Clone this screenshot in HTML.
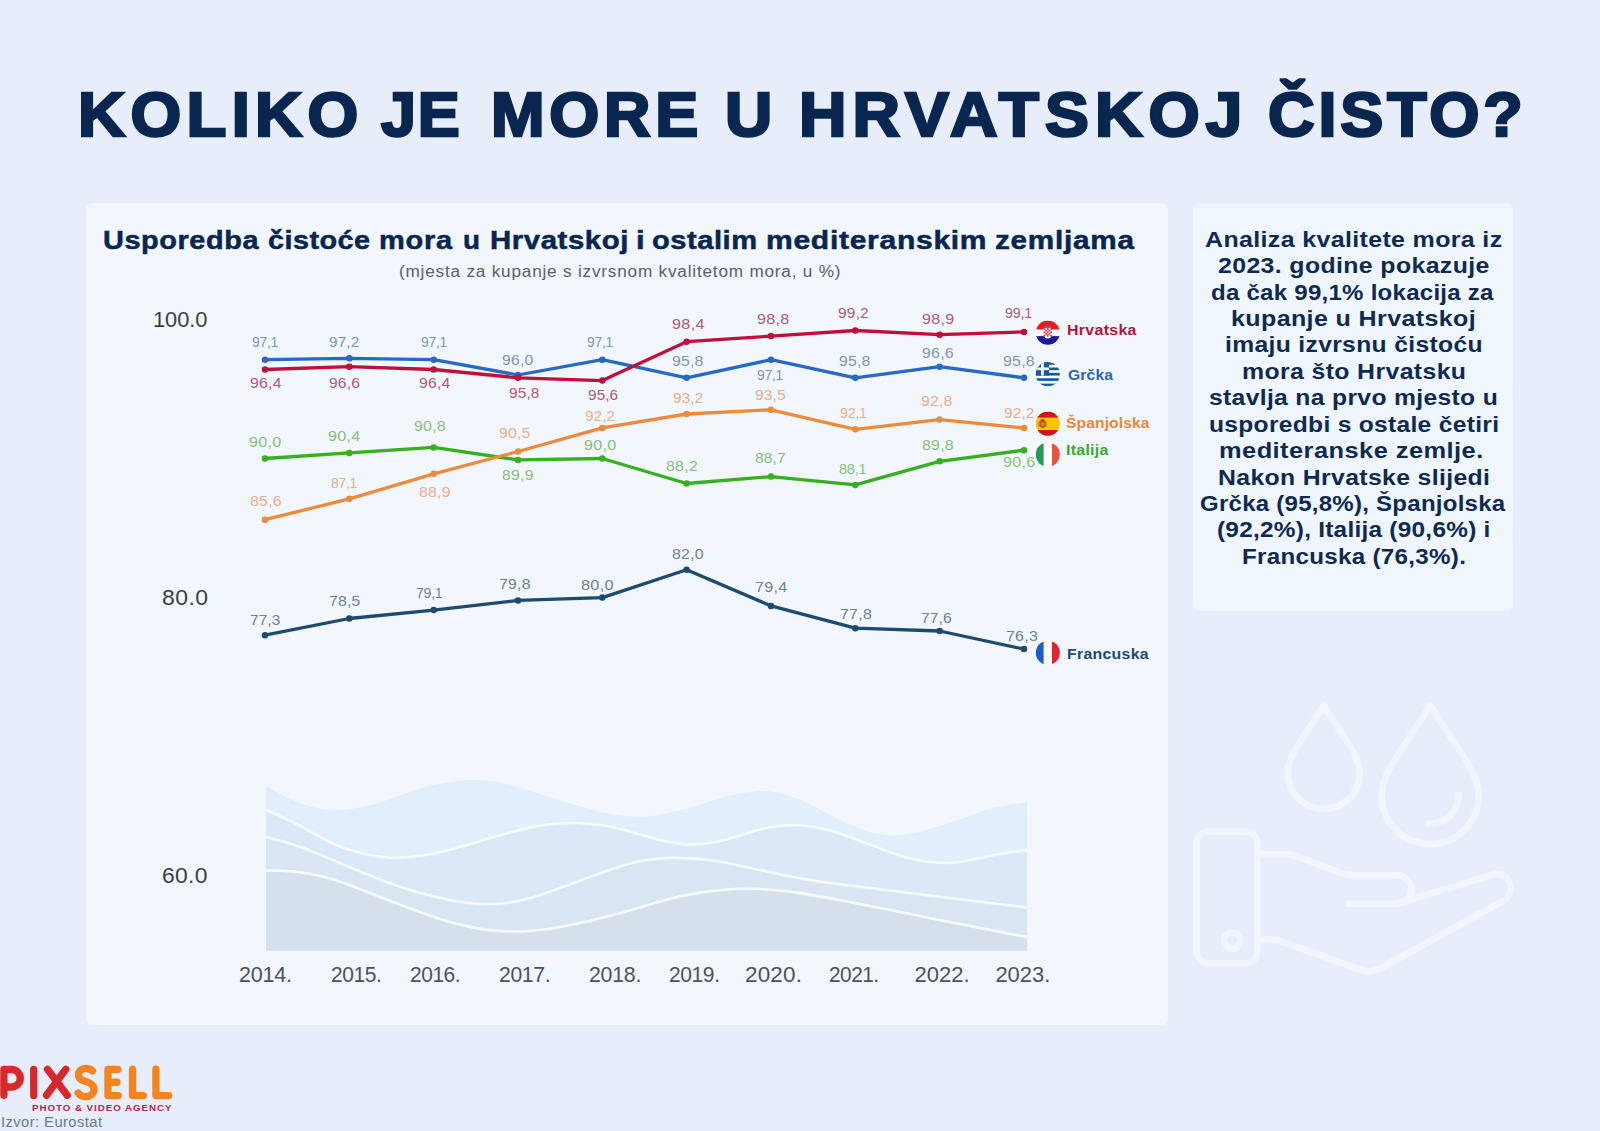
<!DOCTYPE html>
<html lang="hr"><head><meta charset="utf-8"><title>Koliko je more u Hrvatskoj čisto?</title>
<style>
html,body{margin:0;padding:0}
body{width:1600px;height:1131px;position:relative;overflow:hidden;background:#e7eef9;font-family:"Liberation Sans",sans-serif}
.card{position:absolute;background:#f2f6fd;border-radius:6px}
.t{position:absolute;white-space:pre;line-height:1;transform-origin:0 50%}
svg{position:absolute;left:0;top:0}
</style></head><body>
<div class="card" style="left:85.75px;top:202.75px;width:1082.7px;height:822px"></div>
<div class="card" style="left:1192.75px;top:202.75px;width:320.5px;height:407.8px;background:#f0f6fe"></div>
<svg width="1600" height="1131" viewBox="0 0 1600 1131"><defs><clipPath id="chr"><circle cx="1047.8" cy="332.7" r="12.1"/></clipPath><clipPath id="cgr"><circle cx="1047.8" cy="374.2" r="12.1"/></clipPath><clipPath id="ces"><circle cx="1047.8" cy="423.7" r="12.1"/></clipPath><clipPath id="cit"><circle cx="1047.8" cy="454.6" r="12.1"/></clipPath><clipPath id="cfr"><circle cx="1047.8" cy="652.8" r="12.1"/></clipPath></defs>
<path d="M266.3,786.5C268.6,787.7 275.6,791.6 280.3,794.0C285.0,796.4 289.6,798.9 294.3,800.9C299.0,802.9 303.6,804.7 308.3,806.1C313.0,807.5 317.6,808.6 322.3,809.3C327.0,810.0 331.6,810.3 336.3,810.3C341.0,810.2 345.6,809.7 350.3,809.1C355.0,808.4 359.6,807.5 364.3,806.5C369.0,805.5 373.6,804.3 378.3,802.9C383.0,801.5 387.6,799.9 392.3,798.3C397.0,796.7 401.6,794.8 406.3,793.2C411.0,791.6 415.6,789.9 420.3,788.5C425.0,787.1 429.6,785.9 434.3,784.9C439.0,783.8 443.6,782.9 448.3,782.2C453.0,781.5 457.6,780.8 462.3,780.4C467.0,780.1 471.6,779.9 476.3,780.0C481.0,780.0 485.6,780.3 490.3,780.9C495.0,781.5 499.6,782.3 504.3,783.4C509.0,784.4 513.6,785.8 518.3,787.2C523.0,788.6 527.6,790.2 532.3,791.6C537.0,793.1 541.6,794.7 546.3,796.2C551.0,797.6 555.6,799.1 560.3,800.5C565.0,802.0 569.6,803.4 574.3,804.8C579.0,806.1 583.6,807.5 588.3,808.8C593.0,810.0 597.6,811.2 602.3,812.2C607.0,813.2 611.6,814.1 616.3,814.8C621.0,815.6 625.6,816.2 630.3,816.5C635.0,816.8 639.6,816.9 644.3,816.6C649.0,816.3 653.6,815.6 658.3,814.9C663.0,814.1 667.6,813.2 672.3,812.2C677.0,811.2 681.6,810.1 686.3,808.8C691.0,807.6 695.6,806.2 700.3,804.7C705.0,803.2 709.6,801.5 714.3,800.1C719.0,798.6 723.6,797.2 728.3,796.0C733.0,794.9 737.6,793.9 742.3,793.1C747.0,792.4 751.6,791.8 756.3,791.5C761.0,791.3 765.6,791.2 770.3,791.6C775.0,792.0 779.6,792.9 784.3,794.1C789.0,795.3 793.6,797.1 798.3,799.0C803.0,801.0 807.6,803.4 812.3,805.7C817.0,808.0 821.6,810.6 826.3,812.9C831.0,815.3 835.6,817.8 840.3,820.0C845.0,822.3 849.6,824.6 854.3,826.6C859.0,828.5 863.6,830.4 868.3,831.7C873.0,833.0 877.6,834.0 882.3,834.6C887.0,835.2 891.6,835.3 896.3,835.2C901.0,835.0 905.6,834.4 910.3,833.6C915.0,832.9 919.6,831.8 924.3,830.6C929.0,829.4 933.6,828.0 938.3,826.6C943.0,825.2 947.6,823.6 952.3,822.0C957.0,820.4 961.6,818.6 966.3,816.9C971.0,815.2 975.6,813.4 980.3,811.9C985.0,810.3 989.6,808.9 994.3,807.8C999.0,806.6 1003.6,805.8 1008.3,804.9C1013.0,804.1 1019.2,803.2 1022.3,802.7C1025.4,802.2 1026.2,802.1 1027.0,802.0L1027,950.6L266.3,950.6Z" fill="#e2eefb"/>
<path d="M266.3,810.0C268.6,811.1 275.6,814.1 280.3,816.3C285.0,818.5 289.6,820.6 294.3,823.0C299.0,825.3 303.6,827.8 308.3,830.3C313.0,832.8 317.6,835.6 322.3,838.1C327.0,840.5 331.6,843.0 336.3,845.0C341.0,847.0 345.6,848.6 350.3,850.1C355.0,851.6 359.6,852.7 364.3,853.8C369.0,854.9 373.6,855.9 378.3,856.5C383.0,857.2 387.6,857.6 392.3,857.7C397.0,857.8 401.6,857.5 406.3,857.1C411.0,856.8 415.6,856.2 420.3,855.6C425.0,855.0 429.6,854.3 434.3,853.4C439.0,852.5 443.6,851.4 448.3,850.2C453.0,849.0 457.6,847.6 462.3,846.3C467.0,844.9 471.6,843.5 476.3,842.2C481.0,840.8 485.6,839.4 490.3,838.1C495.0,836.8 499.6,835.4 504.3,834.2C509.0,832.9 513.6,831.6 518.3,830.4C523.0,829.2 527.6,828.0 532.3,827.1C537.0,826.1 541.6,825.4 546.3,824.7C551.0,824.1 555.6,823.7 560.3,823.4C565.0,823.1 569.6,823.0 574.3,823.0C579.0,823.1 583.6,823.3 588.3,823.7C593.0,824.1 597.6,824.6 602.3,825.3C607.0,826.0 611.6,826.9 616.3,828.0C621.0,829.0 625.6,830.3 630.3,831.7C635.0,833.0 639.6,834.5 644.3,835.8C649.0,837.2 653.6,838.6 658.3,839.8C663.0,841.0 667.6,842.0 672.3,842.8C677.0,843.6 681.6,844.2 686.3,844.4C691.0,844.6 695.6,844.5 700.3,844.2C705.0,843.8 709.6,843.1 714.3,842.2C719.0,841.3 723.6,840.2 728.3,838.9C733.0,837.7 737.6,836.2 742.3,834.8C747.0,833.4 751.6,831.8 756.3,830.5C761.0,829.3 765.6,828.1 770.3,827.3C775.0,826.4 779.6,825.8 784.3,825.5C789.0,825.2 793.6,825.1 798.3,825.3C803.0,825.6 807.6,826.1 812.3,826.8C817.0,827.5 821.6,828.5 826.3,829.6C831.0,830.8 835.6,832.2 840.3,833.7C845.0,835.2 849.6,837.0 854.3,838.7C859.0,840.4 863.6,842.2 868.3,844.0C873.0,845.7 877.6,847.6 882.3,849.3C887.0,851.1 891.6,852.9 896.3,854.4C901.0,855.9 905.6,857.3 910.3,858.4C915.0,859.5 919.6,860.5 924.3,861.2C929.0,862.0 933.6,862.6 938.3,862.8C943.0,863.0 947.6,863.0 952.3,862.7C957.0,862.3 961.6,861.6 966.3,860.9C971.0,860.1 975.6,859.0 980.3,858.0C985.0,857.0 989.6,855.9 994.3,855.0C999.0,854.1 1003.6,853.2 1008.3,852.6C1013.0,851.9 1019.2,851.3 1022.3,851.0C1025.4,850.6 1026.2,850.6 1027.0,850.5L1027,950.6L266.3,950.6Z" fill="#dae8f7"/>
<path d="M266.3,810.0C268.6,811.1 275.6,814.1 280.3,816.3C285.0,818.5 289.6,820.6 294.3,823.0C299.0,825.3 303.6,827.8 308.3,830.3C313.0,832.8 317.6,835.6 322.3,838.1C327.0,840.5 331.6,843.0 336.3,845.0C341.0,847.0 345.6,848.6 350.3,850.1C355.0,851.6 359.6,852.7 364.3,853.8C369.0,854.9 373.6,855.9 378.3,856.5C383.0,857.2 387.6,857.6 392.3,857.7C397.0,857.8 401.6,857.5 406.3,857.1C411.0,856.8 415.6,856.2 420.3,855.6C425.0,855.0 429.6,854.3 434.3,853.4C439.0,852.5 443.6,851.4 448.3,850.2C453.0,849.0 457.6,847.6 462.3,846.3C467.0,844.9 471.6,843.5 476.3,842.2C481.0,840.8 485.6,839.4 490.3,838.1C495.0,836.8 499.6,835.4 504.3,834.2C509.0,832.9 513.6,831.6 518.3,830.4C523.0,829.2 527.6,828.0 532.3,827.1C537.0,826.1 541.6,825.4 546.3,824.7C551.0,824.1 555.6,823.7 560.3,823.4C565.0,823.1 569.6,823.0 574.3,823.0C579.0,823.1 583.6,823.3 588.3,823.7C593.0,824.1 597.6,824.6 602.3,825.3C607.0,826.0 611.6,826.9 616.3,828.0C621.0,829.0 625.6,830.3 630.3,831.7C635.0,833.0 639.6,834.5 644.3,835.8C649.0,837.2 653.6,838.6 658.3,839.8C663.0,841.0 667.6,842.0 672.3,842.8C677.0,843.6 681.6,844.2 686.3,844.4C691.0,844.6 695.6,844.5 700.3,844.2C705.0,843.8 709.6,843.1 714.3,842.2C719.0,841.3 723.6,840.2 728.3,838.9C733.0,837.7 737.6,836.2 742.3,834.8C747.0,833.4 751.6,831.8 756.3,830.5C761.0,829.3 765.6,828.1 770.3,827.3C775.0,826.4 779.6,825.8 784.3,825.5C789.0,825.2 793.6,825.1 798.3,825.3C803.0,825.6 807.6,826.1 812.3,826.8C817.0,827.5 821.6,828.5 826.3,829.6C831.0,830.8 835.6,832.2 840.3,833.7C845.0,835.2 849.6,837.0 854.3,838.7C859.0,840.4 863.6,842.2 868.3,844.0C873.0,845.7 877.6,847.6 882.3,849.3C887.0,851.1 891.6,852.9 896.3,854.4C901.0,855.9 905.6,857.3 910.3,858.4C915.0,859.5 919.6,860.5 924.3,861.2C929.0,862.0 933.6,862.6 938.3,862.8C943.0,863.0 947.6,863.0 952.3,862.7C957.0,862.3 961.6,861.6 966.3,860.9C971.0,860.1 975.6,859.0 980.3,858.0C985.0,857.0 989.6,855.9 994.3,855.0C999.0,854.1 1003.6,853.2 1008.3,852.6C1013.0,851.9 1019.2,851.3 1022.3,851.0C1025.4,850.6 1026.2,850.6 1027.0,850.5" fill="none" stroke="#f7fafe" stroke-width="2.6"/>
<path d="M266.3,837.0C268.6,837.6 275.6,839.5 280.3,840.8C285.0,842.1 289.6,843.5 294.3,845.0C299.0,846.5 303.6,848.2 308.3,850.0C313.0,851.7 317.6,853.7 322.3,855.6C327.0,857.6 331.6,859.6 336.3,861.6C341.0,863.5 345.6,865.5 350.3,867.5C355.0,869.4 359.6,871.3 364.3,873.2C369.0,875.1 373.6,877.0 378.3,878.8C383.0,880.6 387.6,882.4 392.3,884.1C397.0,885.8 401.6,887.3 406.3,888.8C411.0,890.3 415.6,891.6 420.3,892.9C425.0,894.2 429.6,895.5 434.3,896.6C439.0,897.8 443.6,898.9 448.3,899.8C453.0,900.8 457.6,901.6 462.3,902.2C467.0,902.9 471.6,903.4 476.3,903.7C481.0,904.1 485.6,904.2 490.3,904.1C495.0,904.0 499.6,903.7 504.3,903.2C509.0,902.7 513.6,902.0 518.3,901.1C523.0,900.2 527.6,899.0 532.3,897.6C537.0,896.3 541.6,894.6 546.3,893.0C551.0,891.4 555.6,889.6 560.3,887.9C565.0,886.2 569.6,884.5 574.3,882.8C579.0,881.1 583.6,879.3 588.3,877.6C593.0,875.9 597.6,874.2 602.3,872.6C607.0,870.9 611.6,869.3 616.3,867.8C621.0,866.3 625.6,864.8 630.3,863.6C635.0,862.3 639.6,861.3 644.3,860.4C649.0,859.6 653.6,859.0 658.3,858.6C663.0,858.2 667.6,858.0 672.3,857.9C677.0,857.8 681.6,858.0 686.3,858.2C691.0,858.4 695.6,858.7 700.3,859.1C705.0,859.6 709.6,860.1 714.3,860.8C719.0,861.4 723.6,862.3 728.3,863.2C733.0,864.1 737.6,865.1 742.3,866.2C747.0,867.2 751.6,868.2 756.3,869.2C761.0,870.2 765.6,871.3 770.3,872.2C775.0,873.2 779.6,874.2 784.3,875.1C789.0,876.0 793.6,877.0 798.3,877.9C803.0,878.7 807.6,879.6 812.3,880.4C817.0,881.2 821.6,881.9 826.3,882.5C831.0,883.2 835.6,883.8 840.3,884.4C845.0,885.0 849.6,885.6 854.3,886.2C859.0,886.7 863.6,887.3 868.3,887.9C873.0,888.5 877.6,889.1 882.3,889.7C887.0,890.2 891.6,890.8 896.3,891.4C901.0,892.0 905.6,892.6 910.3,893.2C915.0,893.7 919.6,894.3 924.3,894.9C929.0,895.5 933.6,896.1 938.3,896.7C943.0,897.2 947.6,897.8 952.3,898.4C957.0,899.0 961.6,899.6 966.3,900.1C971.0,900.7 975.6,901.3 980.3,901.8C985.0,902.4 989.6,903.0 994.3,903.5C999.0,904.1 1003.6,904.7 1008.3,905.2C1013.0,905.8 1019.2,906.6 1022.3,906.9C1025.4,907.3 1026.2,907.4 1027.0,907.5L1027,950.6L266.3,950.6Z" fill="#d9e5f3"/>
<path d="M266.3,837.0C268.6,837.6 275.6,839.5 280.3,840.8C285.0,842.1 289.6,843.5 294.3,845.0C299.0,846.5 303.6,848.2 308.3,850.0C313.0,851.7 317.6,853.7 322.3,855.6C327.0,857.6 331.6,859.6 336.3,861.6C341.0,863.5 345.6,865.5 350.3,867.5C355.0,869.4 359.6,871.3 364.3,873.2C369.0,875.1 373.6,877.0 378.3,878.8C383.0,880.6 387.6,882.4 392.3,884.1C397.0,885.8 401.6,887.3 406.3,888.8C411.0,890.3 415.6,891.6 420.3,892.9C425.0,894.2 429.6,895.5 434.3,896.6C439.0,897.8 443.6,898.9 448.3,899.8C453.0,900.8 457.6,901.6 462.3,902.2C467.0,902.9 471.6,903.4 476.3,903.7C481.0,904.1 485.6,904.2 490.3,904.1C495.0,904.0 499.6,903.7 504.3,903.2C509.0,902.7 513.6,902.0 518.3,901.1C523.0,900.2 527.6,899.0 532.3,897.6C537.0,896.3 541.6,894.6 546.3,893.0C551.0,891.4 555.6,889.6 560.3,887.9C565.0,886.2 569.6,884.5 574.3,882.8C579.0,881.1 583.6,879.3 588.3,877.6C593.0,875.9 597.6,874.2 602.3,872.6C607.0,870.9 611.6,869.3 616.3,867.8C621.0,866.3 625.6,864.8 630.3,863.6C635.0,862.3 639.6,861.3 644.3,860.4C649.0,859.6 653.6,859.0 658.3,858.6C663.0,858.2 667.6,858.0 672.3,857.9C677.0,857.8 681.6,858.0 686.3,858.2C691.0,858.4 695.6,858.7 700.3,859.1C705.0,859.6 709.6,860.1 714.3,860.8C719.0,861.4 723.6,862.3 728.3,863.2C733.0,864.1 737.6,865.1 742.3,866.2C747.0,867.2 751.6,868.2 756.3,869.2C761.0,870.2 765.6,871.3 770.3,872.2C775.0,873.2 779.6,874.2 784.3,875.1C789.0,876.0 793.6,877.0 798.3,877.9C803.0,878.7 807.6,879.6 812.3,880.4C817.0,881.2 821.6,881.9 826.3,882.5C831.0,883.2 835.6,883.8 840.3,884.4C845.0,885.0 849.6,885.6 854.3,886.2C859.0,886.7 863.6,887.3 868.3,887.9C873.0,888.5 877.6,889.1 882.3,889.7C887.0,890.2 891.6,890.8 896.3,891.4C901.0,892.0 905.6,892.6 910.3,893.2C915.0,893.7 919.6,894.3 924.3,894.9C929.0,895.5 933.6,896.1 938.3,896.7C943.0,897.2 947.6,897.8 952.3,898.4C957.0,899.0 961.6,899.6 966.3,900.1C971.0,900.7 975.6,901.3 980.3,901.8C985.0,902.4 989.6,903.0 994.3,903.5C999.0,904.1 1003.6,904.7 1008.3,905.2C1013.0,905.8 1019.2,906.6 1022.3,906.9C1025.4,907.3 1026.2,907.4 1027.0,907.5" fill="none" stroke="#f7fafe" stroke-width="2.6"/>
<path d="M266.3,870.5C268.6,870.6 275.6,870.6 280.3,870.8C285.0,871.0 289.6,871.2 294.3,871.6C299.0,872.1 303.6,872.7 308.3,873.5C313.0,874.4 317.6,875.4 322.3,876.6C327.0,877.7 331.6,879.0 336.3,880.5C341.0,882.0 345.6,883.6 350.3,885.3C355.0,887.0 359.6,888.9 364.3,890.7C369.0,892.6 373.6,894.4 378.3,896.3C383.0,898.1 387.6,899.9 392.3,901.7C397.0,903.5 401.6,905.3 406.3,907.0C411.0,908.8 415.6,910.5 420.3,912.2C425.0,913.9 429.6,915.6 434.3,917.1C439.0,918.6 443.6,920.1 448.3,921.4C453.0,922.8 457.6,924.0 462.3,925.1C467.0,926.2 471.6,927.2 476.3,928.1C481.0,928.9 485.6,929.5 490.3,930.1C495.0,930.6 499.6,931.0 504.3,931.2C509.0,931.5 513.6,931.6 518.3,931.5C523.0,931.4 527.6,931.1 532.3,930.7C537.0,930.4 541.6,929.9 546.3,929.3C551.0,928.6 555.6,927.9 560.3,927.0C565.0,926.2 569.6,925.2 574.3,924.2C579.0,923.3 583.6,922.2 588.3,921.2C593.0,920.1 597.6,919.0 602.3,917.8C607.0,916.6 611.6,915.4 616.3,914.1C621.0,912.8 625.6,911.5 630.3,910.2C635.0,908.9 639.6,907.5 644.3,906.1C649.0,904.8 653.6,903.4 658.3,902.1C663.0,900.8 667.6,899.4 672.3,898.3C677.0,897.1 681.6,896.0 686.3,895.1C691.0,894.1 695.6,893.3 700.3,892.6C705.0,891.9 709.6,891.2 714.3,890.7C719.0,890.2 723.6,889.8 728.3,889.5C733.0,889.1 737.6,888.9 742.3,888.8C747.0,888.7 751.6,888.7 756.3,888.9C761.0,889.0 765.6,889.3 770.3,889.7C775.0,890.0 779.6,890.5 784.3,891.0C789.0,891.6 793.6,892.2 798.3,892.9C803.0,893.6 807.6,894.4 812.3,895.2C817.0,896.0 821.6,896.8 826.3,897.6C831.0,898.5 835.6,899.3 840.3,900.2C845.0,901.1 849.6,902.0 854.3,902.9C859.0,903.8 863.6,904.7 868.3,905.7C873.0,906.6 877.6,907.5 882.3,908.5C887.0,909.4 891.6,910.3 896.3,911.3C901.0,912.2 905.6,913.1 910.3,914.1C915.0,915.0 919.6,915.9 924.3,916.9C929.0,917.8 933.6,918.7 938.3,919.7C943.0,920.6 947.6,921.5 952.3,922.5C957.0,923.4 961.6,924.3 966.3,925.3C971.0,926.2 975.6,927.1 980.3,928.0C985.0,929.0 989.6,929.9 994.3,930.8C999.0,931.7 1003.6,932.6 1008.3,933.5C1013.0,934.3 1019.2,935.5 1022.3,936.1C1025.4,936.7 1026.2,936.9 1027.0,937.0L1027,950.6L266.3,950.6Z" fill="#d5e0ec"/>
<path d="M266.3,870.5C268.6,870.6 275.6,870.6 280.3,870.8C285.0,871.0 289.6,871.2 294.3,871.6C299.0,872.1 303.6,872.7 308.3,873.5C313.0,874.4 317.6,875.4 322.3,876.6C327.0,877.7 331.6,879.0 336.3,880.5C341.0,882.0 345.6,883.6 350.3,885.3C355.0,887.0 359.6,888.9 364.3,890.7C369.0,892.6 373.6,894.4 378.3,896.3C383.0,898.1 387.6,899.9 392.3,901.7C397.0,903.5 401.6,905.3 406.3,907.0C411.0,908.8 415.6,910.5 420.3,912.2C425.0,913.9 429.6,915.6 434.3,917.1C439.0,918.6 443.6,920.1 448.3,921.4C453.0,922.8 457.6,924.0 462.3,925.1C467.0,926.2 471.6,927.2 476.3,928.1C481.0,928.9 485.6,929.5 490.3,930.1C495.0,930.6 499.6,931.0 504.3,931.2C509.0,931.5 513.6,931.6 518.3,931.5C523.0,931.4 527.6,931.1 532.3,930.7C537.0,930.4 541.6,929.9 546.3,929.3C551.0,928.6 555.6,927.9 560.3,927.0C565.0,926.2 569.6,925.2 574.3,924.2C579.0,923.3 583.6,922.2 588.3,921.2C593.0,920.1 597.6,919.0 602.3,917.8C607.0,916.6 611.6,915.4 616.3,914.1C621.0,912.8 625.6,911.5 630.3,910.2C635.0,908.9 639.6,907.5 644.3,906.1C649.0,904.8 653.6,903.4 658.3,902.1C663.0,900.8 667.6,899.4 672.3,898.3C677.0,897.1 681.6,896.0 686.3,895.1C691.0,894.1 695.6,893.3 700.3,892.6C705.0,891.9 709.6,891.2 714.3,890.7C719.0,890.2 723.6,889.8 728.3,889.5C733.0,889.1 737.6,888.9 742.3,888.8C747.0,888.7 751.6,888.7 756.3,888.9C761.0,889.0 765.6,889.3 770.3,889.7C775.0,890.0 779.6,890.5 784.3,891.0C789.0,891.6 793.6,892.2 798.3,892.9C803.0,893.6 807.6,894.4 812.3,895.2C817.0,896.0 821.6,896.8 826.3,897.6C831.0,898.5 835.6,899.3 840.3,900.2C845.0,901.1 849.6,902.0 854.3,902.9C859.0,903.8 863.6,904.7 868.3,905.7C873.0,906.6 877.6,907.5 882.3,908.5C887.0,909.4 891.6,910.3 896.3,911.3C901.0,912.2 905.6,913.1 910.3,914.1C915.0,915.0 919.6,915.9 924.3,916.9C929.0,917.8 933.6,918.7 938.3,919.7C943.0,920.6 947.6,921.5 952.3,922.5C957.0,923.4 961.6,924.3 966.3,925.3C971.0,926.2 975.6,927.1 980.3,928.0C985.0,929.0 989.6,929.9 994.3,930.8C999.0,931.7 1003.6,932.6 1008.3,933.5C1013.0,934.3 1019.2,935.5 1022.3,936.1C1025.4,936.7 1026.2,936.9 1027.0,937.0" fill="none" stroke="#f7fafe" stroke-width="2.6"/>
<polyline points="265.0,635.2 349.3,618.5 433.7,610.1 518.0,600.4 602.3,597.6 686.6,569.8 771.0,605.9 855.3,628.2 939.6,631.0 1024.0,649.1" fill="none" stroke="#1d4b70" stroke-width="3.3" stroke-linejoin="round" stroke-linecap="round"/>
<circle cx="265.0" cy="635.2" r="3.25" fill="#1d4b70"/>
<circle cx="349.3" cy="618.5" r="3.25" fill="#1d4b70"/>
<circle cx="433.7" cy="610.1" r="3.25" fill="#1d4b70"/>
<circle cx="518.0" cy="600.4" r="3.25" fill="#1d4b70"/>
<circle cx="602.3" cy="597.6" r="3.25" fill="#1d4b70"/>
<circle cx="686.6" cy="569.8" r="3.25" fill="#1d4b70"/>
<circle cx="771.0" cy="605.9" r="3.25" fill="#1d4b70"/>
<circle cx="855.3" cy="628.2" r="3.25" fill="#1d4b70"/>
<circle cx="939.6" cy="631.0" r="3.25" fill="#1d4b70"/>
<circle cx="1024.0" cy="649.1" r="3.25" fill="#1d4b70"/>
<polyline points="265.0,458.5 349.3,452.9 433.7,447.4 518.0,459.9 602.3,458.5 686.6,483.5 771.0,476.6 855.3,484.9 939.6,461.3 1024.0,450.2" fill="none" stroke="#35b01e" stroke-width="3.3" stroke-linejoin="round" stroke-linecap="round"/>
<circle cx="265.0" cy="458.5" r="3.25" fill="#35b01e"/>
<circle cx="349.3" cy="452.9" r="3.25" fill="#35b01e"/>
<circle cx="433.7" cy="447.4" r="3.25" fill="#35b01e"/>
<circle cx="518.0" cy="459.9" r="3.25" fill="#35b01e"/>
<circle cx="602.3" cy="458.5" r="3.25" fill="#35b01e"/>
<circle cx="686.6" cy="483.5" r="3.25" fill="#35b01e"/>
<circle cx="771.0" cy="476.6" r="3.25" fill="#35b01e"/>
<circle cx="855.3" cy="484.9" r="3.25" fill="#35b01e"/>
<circle cx="939.6" cy="461.3" r="3.25" fill="#35b01e"/>
<circle cx="1024.0" cy="450.2" r="3.25" fill="#35b01e"/>
<polyline points="265.0,519.7 349.3,498.8 433.7,473.8 518.0,451.5 602.3,427.9 686.6,414.0 771.0,409.8 855.3,429.3 939.6,419.6 1024.0,427.9" fill="none" stroke="#ee8a3c" stroke-width="3.3" stroke-linejoin="round" stroke-linecap="round"/>
<circle cx="265.0" cy="519.7" r="3.25" fill="#ee8a3c"/>
<circle cx="349.3" cy="498.8" r="3.25" fill="#ee8a3c"/>
<circle cx="433.7" cy="473.8" r="3.25" fill="#ee8a3c"/>
<circle cx="518.0" cy="451.5" r="3.25" fill="#ee8a3c"/>
<circle cx="602.3" cy="427.9" r="3.25" fill="#ee8a3c"/>
<circle cx="686.6" cy="414.0" r="3.25" fill="#ee8a3c"/>
<circle cx="771.0" cy="409.8" r="3.25" fill="#ee8a3c"/>
<circle cx="855.3" cy="429.3" r="3.25" fill="#ee8a3c"/>
<circle cx="939.6" cy="419.6" r="3.25" fill="#ee8a3c"/>
<circle cx="1024.0" cy="427.9" r="3.25" fill="#ee8a3c"/>
<polyline points="265.0,359.7 349.3,358.3 433.7,359.7 518.0,375.0 602.3,359.7 686.6,377.8 771.0,359.7 855.3,377.8 939.6,366.7 1024.0,377.8" fill="none" stroke="#2669c6" stroke-width="3.3" stroke-linejoin="round" stroke-linecap="round"/>
<circle cx="265.0" cy="359.7" r="3.25" fill="#2669c6"/>
<circle cx="349.3" cy="358.3" r="3.25" fill="#2669c6"/>
<circle cx="433.7" cy="359.7" r="3.25" fill="#2669c6"/>
<circle cx="518.0" cy="375.0" r="3.25" fill="#2669c6"/>
<circle cx="602.3" cy="359.7" r="3.25" fill="#2669c6"/>
<circle cx="686.6" cy="377.8" r="3.25" fill="#2669c6"/>
<circle cx="771.0" cy="359.7" r="3.25" fill="#2669c6"/>
<circle cx="855.3" cy="377.8" r="3.25" fill="#2669c6"/>
<circle cx="939.6" cy="366.7" r="3.25" fill="#2669c6"/>
<circle cx="1024.0" cy="377.8" r="3.25" fill="#2669c6"/>
<polyline points="265.0,369.5 349.3,366.7 433.7,369.5 518.0,377.8 602.3,380.6 686.6,341.7 771.0,336.1 855.3,330.5 939.6,334.7 1024.0,331.9" fill="none" stroke="#c10f3b" stroke-width="3.3" stroke-linejoin="round" stroke-linecap="round"/>
<circle cx="265.0" cy="369.5" r="3.25" fill="#c10f3b"/>
<circle cx="349.3" cy="366.7" r="3.25" fill="#c10f3b"/>
<circle cx="433.7" cy="369.5" r="3.25" fill="#c10f3b"/>
<circle cx="518.0" cy="377.8" r="3.25" fill="#c10f3b"/>
<circle cx="602.3" cy="380.6" r="3.25" fill="#c10f3b"/>
<circle cx="686.6" cy="341.7" r="3.25" fill="#c10f3b"/>
<circle cx="771.0" cy="336.1" r="3.25" fill="#c10f3b"/>
<circle cx="855.3" cy="330.5" r="3.25" fill="#c10f3b"/>
<circle cx="939.6" cy="334.7" r="3.25" fill="#c10f3b"/>
<circle cx="1024.0" cy="331.9" r="3.25" fill="#c10f3b"/>
<g clip-path="url(#chr)"><rect x="1035.7" y="320.59999999999997" width="24.2" height="24.2" fill="#fafafa"/><rect x="1035.7" y="320.59999999999997" width="24.2" height="8.8" fill="#f01616"/><rect x="1035.7" y="336.09999999999997" width="24.2" height="9" fill="#1c1a96"/><path d="M1043.6,328.09999999999997h8.4v6.2a4.2,4.2 0 0 1 -8.4,0z" fill="#fff"/><rect x="1043.60" y="328.10" width="1.68" height="1.68" fill="#e8222a"/><rect x="1046.96" y="328.10" width="1.68" height="1.68" fill="#e8222a"/><rect x="1050.32" y="328.10" width="1.68" height="1.68" fill="#e8222a"/><rect x="1045.28" y="329.78" width="1.68" height="1.68" fill="#e8222a"/><rect x="1048.64" y="329.78" width="1.68" height="1.68" fill="#e8222a"/><rect x="1043.60" y="331.46" width="1.68" height="1.68" fill="#e8222a"/><rect x="1046.96" y="331.46" width="1.68" height="1.68" fill="#e8222a"/><rect x="1050.32" y="331.46" width="1.68" height="1.68" fill="#e8222a"/><rect x="1045.28" y="333.14" width="1.68" height="1.68" fill="#e8222a"/><rect x="1048.64" y="333.14" width="1.68" height="1.68" fill="#e8222a"/><rect x="1043.60" y="334.82" width="1.68" height="1.68" fill="#e8222a"/><rect x="1046.96" y="334.82" width="1.68" height="1.68" fill="#e8222a"/><rect x="1050.32" y="334.82" width="1.68" height="1.68" fill="#e8222a"/><rect x="1044.0" y="326.09999999999997" width="7.6000000000000005" height="2.0" fill="#7f5fa8"/></g>
<g clip-path="url(#cgr)"><rect x="1035.7" y="362.09999999999997" width="24.2" height="24.2" fill="#fafcff"/><rect x="1035.7" y="362.10" width="24.2" height="2.69" fill="#195a9c"/><rect x="1035.7" y="367.48" width="24.2" height="2.69" fill="#195a9c"/><rect x="1035.7" y="372.86" width="24.2" height="2.69" fill="#195a9c"/><rect x="1035.7" y="378.23" width="24.2" height="2.69" fill="#195a9c"/><rect x="1035.7" y="383.61" width="24.2" height="2.69" fill="#195a9c"/><rect x="1035.7" y="362.09999999999997" width="13.44" height="13.44" fill="#195a9c"/><rect x="1041.08" y="362.09999999999997" width="2.69" height="13.44" fill="#fafcff"/><rect x="1035.7" y="367.48" width="13.44" height="2.69" fill="#fafcff"/></g>
<g clip-path="url(#ces)"><rect x="1035.7" y="411.59999999999997" width="24.2" height="24.2" fill="#ffc400"/><rect x="1035.7" y="411.59999999999997" width="24.2" height="6" fill="#d0161e"/><rect x="1035.7" y="430.0" width="24.2" height="6" fill="#d0161e"/><path d="M1039.3999999999999,421.09999999999997h6.4v4.2q0,2.6 -3.2,2.9q-3.2,-0.3 -3.2,-2.9z" fill="#b4602a"/><rect x="1040.5" y="419.3" width="4.2" height="1.9" rx="0.8" fill="#b23a22"/><rect x="1041.2" y="422.4" width="2.6" height="3.2" fill="#d48a2c"/><rect x="1038.2" y="421.5" width="0.9" height="5.6" fill="#c08a3a"/><rect x="1046.2" y="421.5" width="0.9" height="5.6" fill="#c08a3a"/></g>
<g clip-path="url(#cit)"><rect x="1035.7" y="442.5" width="24.2" height="24.2" fill="#fdfdfd"/><rect x="1035.7" y="442.5" width="7.9" height="24.2" fill="#219b57"/><rect x="1051.9999999999998" y="442.5" width="7.9" height="24.2" fill="#e9523c"/></g>
<g clip-path="url(#cfr)"><rect x="1035.7" y="640.6999999999999" width="24.2" height="24.2" fill="#fdfdfd"/><rect x="1035.7" y="640.6999999999999" width="7.9" height="24.2" fill="#1f5cc8"/><rect x="1051.9999999999998" y="640.6999999999999" width="7.9" height="24.2" fill="#e3202c"/></g>
<g fill="none" stroke="#f1f6fc" stroke-width="6.7" stroke-linecap="round" stroke-linejoin="round"><rect x="1196.5" y="831.7" width="60.8" height="131.3" rx="11.5"/><circle cx="1232.3" cy="940.4" r="8.1"/><path d="M1323.7,705.5C1347.7,743.5 1359.7,757.0 1359.7,773A36,36 0 0 1 1287.7,773C1287.7,757.0 1299.7,743.5 1323.7,705.5Z"/><path d="M1430.2,705.5C1462.5,756.2 1478.7,774.1 1478.7,795.6A48.5,48.5 0 0 1 1381.7,795.6C1381.7,774.1 1397.9,756.2 1430.2,705.5Z"/><path d="M1458.9,794.8A28.7,28.7 0 0 1 1428.5,823.5"/><path d="M1258,854.4H1288C1300,854.4 1338,875.2 1353,875.2H1397A14.3,14.3 0 0 1 1397,903.8H1348"/><path d="M1397,903.8L1490,875.5A14,14 0 0 1 1503,901L1382,967.5Q1372,973.5 1361,970L1279,940.5Q1274,939 1268,939H1258"/></g>
<g fill="none" stroke-width="7.3" stroke-linecap="round" stroke-linejoin="round"><path stroke="#d9282b" d="M3.9,1095.3V1069.5H11.55A8.73,8.73 0 0 1 11.55,1087H3.9"/><path stroke="#d9282b" d="M33.7,1069.5V1095.5"/><path stroke="#d9282b" d="M47.5,1069.3L67.2,1095.3M65.8,1069.3L46.5,1095.3"/><path stroke="#f5831f" d="M92.5,1070.8C90.5,1068.8 88,1068.5 85.5,1068.5C81.5,1068.5 78.5,1071 78.5,1075C78.5,1079.5 82.5,1080.6 86,1081.6C90,1082.8 94,1084.5 94,1089.3C94,1094 90,1096.6 85.5,1096.6C82,1096.6 79.5,1095 78.2,1093"/><path stroke="#f5831f" d="M117.8,1069.45H107.95V1095.55H118.3M107.95,1082.25H117"/><path stroke="#f5831f" d="M132.5,1069.1V1095.6H143.4"/><path stroke="#f5831f" d="M155.9,1069.1V1095.6H168.6"/></g>
</svg>
<span class="t" style="left:77.69px;top:84.22px;font-size:62.22px;color:#08264f;letter-spacing:5.07px;font-weight:700;-webkit-text-stroke:2.6px #08264f;transform:scaleX(1.0484);">KOLIKO</span>
<span class="t" style="left:381.35px;top:84.22px;font-size:62.22px;color:#08264f;letter-spacing:1.85px;font-weight:700;-webkit-text-stroke:2.6px #08264f;transform:scaleX(1.0110);">JE</span>
<span class="t" style="left:490.50px;top:84.22px;font-size:62.22px;color:#08264f;letter-spacing:4.59px;font-weight:700;-webkit-text-stroke:2.6px #08264f;transform:scaleX(1.0339);">MORE</span>
<span class="t" style="left:724.87px;top:84.22px;font-size:62.22px;color:#08264f;letter-spacing:4.33px;font-weight:700;-webkit-text-stroke:2.6px #08264f;transform:scaleX(1.0521);">U</span>
<span class="t" style="left:798.90px;top:84.22px;font-size:62.22px;color:#08264f;letter-spacing:5.75px;font-weight:700;-webkit-text-stroke:2.6px #08264f;transform:scaleX(1.0571);">HRVATSKOJ</span>
<span class="t" style="left:1268.15px;top:84.22px;font-size:62.22px;color:#08264f;letter-spacing:3.72px;font-weight:700;-webkit-text-stroke:2.6px #08264f;transform:scaleX(1.0374);">ČISTO?</span>
<span class="t" style="left:102.71px;top:226.85px;font-size:26.27px;color:#08264f;letter-spacing:0.52px;font-weight:700;-webkit-text-stroke:0.5px #08264f;transform:scaleX(1.1005);">Usporedba</span>
<span class="t" style="left:268.02px;top:226.85px;font-size:26.27px;color:#08264f;letter-spacing:0.43px;font-weight:700;-webkit-text-stroke:0.5px #08264f;transform:scaleX(1.0964);">čistoće</span>
<span class="t" style="left:379.24px;top:226.85px;font-size:26.27px;color:#08264f;letter-spacing:0.66px;font-weight:700;-webkit-text-stroke:0.5px #08264f;transform:scaleX(1.1044);">mora</span>
<span class="t" style="left:463.12px;top:226.85px;font-size:26.27px;color:#08264f;letter-spacing:0.24px;font-weight:700;-webkit-text-stroke:0.5px #08264f;transform:scaleX(1.0599);">u</span>
<span class="t" style="left:489.89px;top:226.85px;font-size:26.27px;color:#08264f;letter-spacing:0.51px;font-weight:700;-webkit-text-stroke:0.5px #08264f;transform:scaleX(1.1174);">Hrvatskoj</span>
<span class="t" style="left:635.97px;top:226.85px;font-size:26.27px;color:#08264f;letter-spacing:0.19px;font-weight:700;-webkit-text-stroke:0.5px #08264f;transform:scaleX(1.1863);">i</span>
<span class="t" style="left:652.31px;top:226.85px;font-size:26.27px;color:#08264f;letter-spacing:0.48px;font-weight:700;-webkit-text-stroke:0.5px #08264f;transform:scaleX(1.1074);">ostalim</span>
<span class="t" style="left:766.27px;top:226.85px;font-size:26.27px;color:#08264f;letter-spacing:0.63px;font-weight:700;-webkit-text-stroke:0.5px #08264f;transform:scaleX(1.1431);">mediteranskim</span>
<span class="t" style="left:995.46px;top:226.85px;font-size:26.27px;color:#08264f;letter-spacing:0.65px;font-weight:700;-webkit-text-stroke:0.5px #08264f;transform:scaleX(1.1310);">zemljama</span>
<span class="t" style="left:398.94px;top:263.90px;font-size:16px;color:#5b6068;letter-spacing:0.75px;transform:scaleX(1.0721);">(mjesta za kupanje s izvrsnom kvalitetom mora, u %)</span>
<span class="t" style="left:153.04px;top:308.61px;font-size:22px;color:#3a3e45;letter-spacing:-0.06px;transform:scaleX(0.9929);">100.0</span>
<span class="t" style="left:161.50px;top:586.61px;font-size:22px;color:#3a3e45;letter-spacing:0.40px;transform:scaleX(1.0453);">80.0</span>
<span class="t" style="left:162.04px;top:865.00px;font-size:22px;color:#3a3e45;letter-spacing:0.33px;transform:scaleX(1.0376);">60.0</span>
<span class="t" style="left:239.42px;top:964.41px;font-size:22px;color:#4a525d;letter-spacing:-0.21px;transform:scaleX(0.9765);">2014.</span>
<span class="t" style="left:330.75px;top:964.41px;font-size:22px;color:#4a525d;letter-spacing:-0.43px;transform:scaleX(0.9522);">2015.</span>
<span class="t" style="left:409.55px;top:964.41px;font-size:22px;color:#4a525d;letter-spacing:-0.45px;transform:scaleX(0.9510);">2016.</span>
<span class="t" style="left:499.24px;top:964.41px;font-size:22px;color:#4a525d;letter-spacing:-0.35px;transform:scaleX(0.9614);">2017.</span>
<span class="t" style="left:588.53px;top:964.41px;font-size:22px;color:#4a525d;letter-spacing:-0.27px;transform:scaleX(0.9695);">2018.</span>
<span class="t" style="left:668.64px;top:964.41px;font-size:22px;color:#4a525d;letter-spacing:-0.41px;transform:scaleX(0.9545);">2019.</span>
<span class="t" style="left:744.67px;top:964.41px;font-size:22px;color:#4a525d;letter-spacing:0.18px;transform:scaleX(1.0215);">2020.</span>
<span class="t" style="left:828.75px;top:964.41px;font-size:22px;color:#4a525d;letter-spacing:-0.50px;transform:scaleX(0.9453);">2021.</span>
<span class="t" style="left:914.49px;top:964.41px;font-size:22px;color:#4a525d;letter-spacing:0.01px;">2022.</span>
<span class="t" style="left:995.39px;top:964.41px;font-size:22px;color:#4a525d;letter-spacing:-0.00px;">2023.</span>
<span class="t" style="left:249.76px;top:374.51px;font-size:15px;color:#b05a78;letter-spacing:0.21px;transform:scaleX(1.0549);">96,4</span>
<span class="t" style="left:328.52px;top:374.51px;font-size:15px;color:#b05a78;letter-spacing:0.16px;transform:scaleX(1.0420);">96,6</span>
<span class="t" style="left:418.76px;top:374.51px;font-size:15px;color:#b05a78;letter-spacing:0.19px;transform:scaleX(1.0486);">96,4</span>
<span class="t" style="left:509.28px;top:384.51px;font-size:15px;color:#b05a78;letter-spacing:0.11px;transform:scaleX(1.0292);">95,8</span>
<span class="t" style="left:588.03px;top:386.51px;font-size:15px;color:#b05a78;letter-spacing:0.09px;transform:scaleX(1.0231);">95,6</span>
<span class="t" style="left:671.74px;top:315.76px;font-size:15px;color:#b05a78;letter-spacing:0.30px;transform:scaleX(1.0798);">98,4</span>
<span class="t" style="left:756.75px;top:310.76px;font-size:15px;color:#b05a78;letter-spacing:0.27px;transform:scaleX(1.0732);">98,8</span>
<span class="t" style="left:838.02px;top:305.01px;font-size:15px;color:#b05a78;letter-spacing:0.15px;transform:scaleX(1.0382);">99,2</span>
<span class="t" style="left:921.74px;top:310.76px;font-size:15px;color:#b05a78;letter-spacing:0.28px;transform:scaleX(1.0748);">98,9</span>
<span class="t" style="left:1005.33px;top:305.31px;font-size:15px;color:#b05a78;letter-spacing:-0.21px;transform:scaleX(0.9506);">99,1</span>
<span class="t" style="left:251.85px;top:334.01px;font-size:15px;color:#7e97ae;letter-spacing:-0.30px;transform:scaleX(0.9304);">97,1</span>
<span class="t" style="left:328.78px;top:334.01px;font-size:15px;color:#7e97ae;letter-spacing:0.10px;transform:scaleX(1.0256);">97,2</span>
<span class="t" style="left:421.35px;top:334.01px;font-size:15px;color:#7e97ae;letter-spacing:-0.30px;transform:scaleX(0.9304);">97,1</span>
<span class="t" style="left:501.76px;top:351.51px;font-size:15px;color:#7e97ae;letter-spacing:0.20px;transform:scaleX(1.0525);">96,0</span>
<span class="t" style="left:586.85px;top:334.01px;font-size:15px;color:#7e97ae;letter-spacing:-0.30px;transform:scaleX(0.9304);">97,1</span>
<span class="t" style="left:671.76px;top:353.26px;font-size:15px;color:#7e97ae;letter-spacing:0.20px;transform:scaleX(1.0543);">95,8</span>
<span class="t" style="left:756.85px;top:366.51px;font-size:15px;color:#7e97ae;letter-spacing:-0.30px;transform:scaleX(0.9304);">97,1</span>
<span class="t" style="left:839.26px;top:353.26px;font-size:15px;color:#7e97ae;letter-spacing:0.20px;transform:scaleX(1.0543);">95,8</span>
<span class="t" style="left:922.25px;top:344.51px;font-size:15px;color:#7e97ae;letter-spacing:0.23px;transform:scaleX(1.0608);">96,6</span>
<span class="t" style="left:1003.26px;top:353.01px;font-size:15px;color:#7e97ae;letter-spacing:0.22px;transform:scaleX(1.0594);">95,8</span>
<span class="t" style="left:249.81px;top:493.26px;font-size:15px;color:#e3b08e;letter-spacing:0.22px;transform:scaleX(1.0594);">85,6</span>
<span class="t" style="left:330.64px;top:475.01px;font-size:15px;color:#e3b08e;letter-spacing:-0.30px;transform:scaleX(0.9293);">87,1</span>
<span class="t" style="left:418.81px;top:484.01px;font-size:15px;color:#e3b08e;letter-spacing:0.21px;transform:scaleX(1.0545);">88,9</span>
<span class="t" style="left:499.26px;top:425.01px;font-size:15px;color:#e3b08e;letter-spacing:0.20px;transform:scaleX(1.0537);">90,5</span>
<span class="t" style="left:585.03px;top:407.51px;font-size:15px;color:#e3b08e;letter-spacing:0.07px;transform:scaleX(1.0193);">92,2</span>
<span class="t" style="left:673.03px;top:389.51px;font-size:15px;color:#e3b08e;letter-spacing:0.10px;transform:scaleX(1.0256);">93,2</span>
<span class="t" style="left:755.02px;top:387.01px;font-size:15px;color:#e3b08e;letter-spacing:0.13px;transform:scaleX(1.0349);">93,5</span>
<span class="t" style="left:840.09px;top:405.01px;font-size:15px;color:#e3b08e;letter-spacing:-0.24px;transform:scaleX(0.9430);">92,1</span>
<span class="t" style="left:920.51px;top:393.26px;font-size:15px;color:#e3b08e;letter-spacing:0.20px;transform:scaleX(1.0543);">92,8</span>
<span class="t" style="left:1003.78px;top:404.81px;font-size:15px;color:#e3b08e;letter-spacing:0.11px;transform:scaleX(1.0294);">92,2</span>
<span class="t" style="left:249.25px;top:434.01px;font-size:15px;color:#88c07a;letter-spacing:0.27px;transform:scaleX(1.0714);">90,0</span>
<span class="t" style="left:327.50px;top:427.51px;font-size:15px;color:#88c07a;letter-spacing:0.27px;transform:scaleX(1.0736);">90,4</span>
<span class="t" style="left:413.50px;top:418.26px;font-size:15px;color:#88c07a;letter-spacing:0.23px;transform:scaleX(1.0606);">90,8</span>
<span class="t" style="left:501.81px;top:467.01px;font-size:15px;color:#88c07a;letter-spacing:0.21px;transform:scaleX(1.0545);">89,9</span>
<span class="t" style="left:584.25px;top:436.51px;font-size:15px;color:#88c07a;letter-spacing:0.27px;transform:scaleX(1.0714);">90,0</span>
<span class="t" style="left:666.06px;top:458.26px;font-size:15px;color:#88c07a;letter-spacing:0.23px;transform:scaleX(1.0620);">88,2</span>
<span class="t" style="left:755.07px;top:449.51px;font-size:15px;color:#88c07a;letter-spacing:0.14px;transform:scaleX(1.0368);">88,7</span>
<span class="t" style="left:839.37px;top:460.76px;font-size:15px;color:#88c07a;letter-spacing:-0.16px;transform:scaleX(0.9607);">88,1</span>
<span class="t" style="left:922.31px;top:437.01px;font-size:15px;color:#88c07a;letter-spacing:0.22px;transform:scaleX(1.0592);">89,8</span>
<span class="t" style="left:1002.75px;top:454.20px;font-size:15px;color:#88c07a;letter-spacing:0.27px;transform:scaleX(1.0721);">90,6</span>
<span class="t" style="left:250.46px;top:611.51px;font-size:15px;color:#6d8392;letter-spacing:0.10px;transform:scaleX(1.0248);">77,3</span>
<span class="t" style="left:328.69px;top:593.26px;font-size:15px;color:#6d8392;letter-spacing:0.19px;transform:scaleX(1.0492);">78,5</span>
<span class="t" style="left:416.03px;top:585.01px;font-size:15px;color:#6d8392;letter-spacing:-0.26px;transform:scaleX(0.9383);">79,1</span>
<span class="t" style="left:499.19px;top:575.76px;font-size:15px;color:#6d8392;letter-spacing:0.21px;transform:scaleX(1.0561);">79,8</span>
<span class="t" style="left:580.54px;top:576.51px;font-size:15px;color:#6d8392;letter-spacing:0.30px;transform:scaleX(1.0825);">80,0</span>
<span class="t" style="left:672.28px;top:545.54px;font-size:15px;color:#6d8392;letter-spacing:0.22px;transform:scaleX(1.0574);">82,0</span>
<span class="t" style="left:754.65px;top:578.88px;font-size:15px;color:#6d8392;letter-spacing:0.27px;transform:scaleX(1.0739);">79,4</span>
<span class="t" style="left:839.56px;top:605.70px;font-size:15px;color:#6d8392;letter-spacing:0.23px;transform:scaleX(1.0624);">77,8</span>
<span class="t" style="left:921.40px;top:609.82px;font-size:15px;color:#6d8392;letter-spacing:0.14px;transform:scaleX(1.0366);">77,6</span>
<span class="t" style="left:1006.29px;top:627.70px;font-size:15px;color:#6d8392;letter-spacing:0.23px;transform:scaleX(1.0626);">76,3</span>
<span class="t" style="left:1067.43px;top:322.40px;font-size:15.4px;color:#b5123c;letter-spacing:0.30px;font-weight:700;transform:scaleX(1.0340);">Hrvatska</span>
<span class="t" style="left:1067.56px;top:366.62px;font-size:15.4px;color:#2b66b0;letter-spacing:0.17px;font-weight:700;transform:scaleX(1.0159);">Grčka</span>
<span class="t" style="left:1066.35px;top:415.21px;font-size:15.4px;color:#e8873d;letter-spacing:0.12px;font-weight:700;transform:scaleX(1.0138);">Španjolska</span>
<span class="t" style="left:1066.13px;top:442.31px;font-size:15.4px;color:#3aa832;letter-spacing:0.24px;font-weight:700;transform:scaleX(1.0385);">Italija</span>
<span class="t" style="left:1067.24px;top:646.31px;font-size:15.4px;color:#1d4b70;letter-spacing:0.28px;font-weight:700;transform:scaleX(1.0302);">Francuska</span>
<span class="t" style="left:1205.18px;top:228.81px;font-size:22px;color:#0f2a50;letter-spacing:0.31px;font-weight:700;transform:scaleX(1.1352);">Analiza kvalitete mora iz</span>
<span class="t" style="left:1217.78px;top:255.22px;font-size:22px;color:#0f2a50;letter-spacing:0.33px;font-weight:700;transform:scaleX(1.1299);">2023. godine pokazuje</span>
<span class="t" style="left:1211.04px;top:281.64px;font-size:22px;color:#0f2a50;letter-spacing:0.23px;font-weight:700;transform:scaleX(1.0930);">da čak 99,1% lokacija za</span>
<span class="t" style="left:1231.29px;top:308.06px;font-size:22px;color:#0f2a50;letter-spacing:0.34px;font-weight:700;transform:scaleX(1.1370);">kupanje u Hrvatskoj</span>
<span class="t" style="left:1224.70px;top:334.48px;font-size:22px;color:#0f2a50;letter-spacing:0.30px;font-weight:700;transform:scaleX(1.1209);">imaju izvrsnu čistoću</span>
<span class="t" style="left:1241.52px;top:360.91px;font-size:22px;color:#0f2a50;letter-spacing:0.34px;font-weight:700;transform:scaleX(1.1277);">mora što Hrvatsku</span>
<span class="t" style="left:1208.82px;top:387.33px;font-size:22px;color:#0f2a50;letter-spacing:0.29px;font-weight:700;transform:scaleX(1.1224);">stavlja na prvo mjesto u</span>
<span class="t" style="left:1208.56px;top:413.75px;font-size:22px;color:#0f2a50;letter-spacing:0.27px;font-weight:700;transform:scaleX(1.1172);">usporedbi s ostale četiri</span>
<span class="t" style="left:1218.91px;top:440.17px;font-size:22px;color:#0f2a50;letter-spacing:0.39px;font-weight:700;transform:scaleX(1.1552);">mediteranske zemlje.</span>
<span class="t" style="left:1218.15px;top:466.58px;font-size:22px;color:#0f2a50;letter-spacing:0.31px;font-weight:700;transform:scaleX(1.1269);">Nakon Hrvatske slijedi</span>
<span class="t" style="left:1200.15px;top:493.00px;font-size:22px;color:#0f2a50;letter-spacing:0.24px;font-weight:700;transform:scaleX(1.0913);">Grčka (95,8%), Španjolska</span>
<span class="t" style="left:1217.43px;top:519.42px;font-size:22px;color:#0f2a50;letter-spacing:0.23px;font-weight:700;transform:scaleX(1.1082);">(92,2%), Italija (90,6%) i</span>
<span class="t" style="left:1241.54px;top:545.84px;font-size:22px;color:#0f2a50;letter-spacing:0.26px;font-weight:700;transform:scaleX(1.0991);">Francuska (76,3%).</span>
<span class="t" style="left:31.95px;top:1103.91px;font-size:8.3px;color:#b3274b;letter-spacing:0.81px;font-weight:700;transform:scaleX(1.1753);">PHOTO &amp; VIDEO AGENCY</span>
<span class="t" style="left:0.89px;top:1115.61px;font-size:13.8px;color:#5f7d92;letter-spacing:0.40px;transform:scaleX(1.0683);">Izvor: Eurostat</span>
</body></html>
